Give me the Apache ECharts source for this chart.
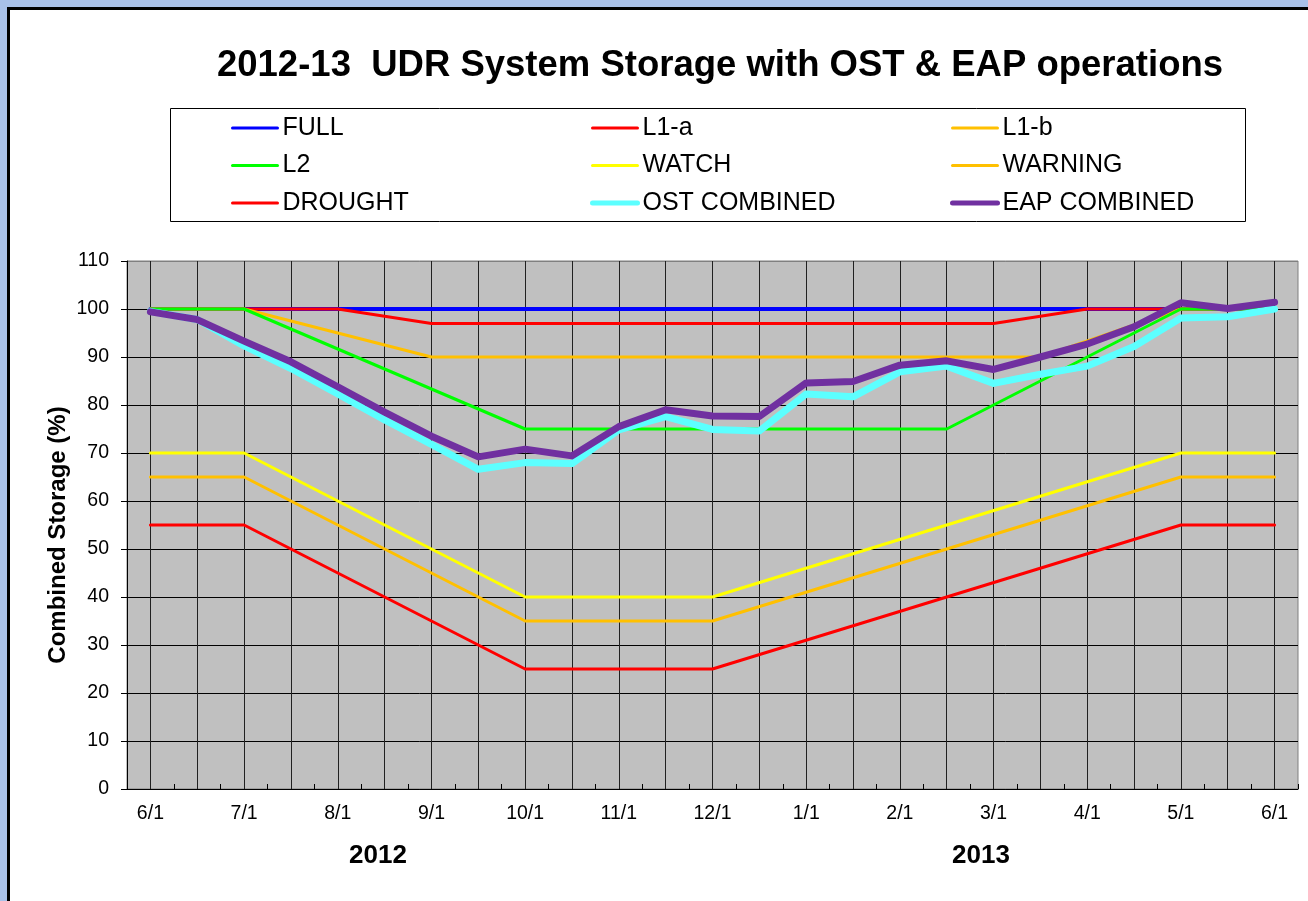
<!DOCTYPE html>
<html>
<head>
<meta charset="utf-8">
<title>2012-13 UDR System Storage</title>
<script src="https://cdn.jsdelivr.net/npm/echarts@6/dist/echarts.min.js"></script>
<style>
  html, body { margin: 0; padding: 0; background: #ffffff; }
  #chart { width: 1308px; height: 901px; }
</style>
</head>
<body>
<div id="chart"></div>
<script>
// Semi-monthly dates from 6/1/2012 to 6/1/2013
const dates = [
  '2012-06-01', '2012-06-15', '2012-07-01', '2012-07-15', '2012-08-01',
  '2012-08-15', '2012-09-01', '2012-09-15', '2012-10-01', '2012-10-15',
  '2012-11-01', '2012-11-15', '2012-12-01', '2012-12-15', '2013-01-01',
  '2013-01-15', '2013-02-01', '2013-02-15', '2013-03-01', '2013-03-15',
  '2013-04-01', '2013-04-15', '2013-05-01', '2013-05-15', '2013-06-01'
];

// Combined storage (%) for the two operating scenarios
const ostCombined = [99.5, 97.8, 92.3, 87.6, 82.3, 76.9, 71.8, 66.6, 68.0, 67.8,
  74.8, 77.6, 74.9, 74.6, 82.3, 81.7, 86.9, 88.1, 84.5, 86.4,
  88.1, 92.2, 98.1, 98.4, 100.0];
const eapCombined = [99.4, 97.8, 93.3, 89.0, 83.8, 78.5, 73.5, 69.2, 70.8, 69.4,
  75.5, 79.0, 77.7, 77.6, 84.6, 84.9, 88.3, 89.2, 87.4, 90.0,
  92.7, 96.3, 101.3, 100.1, 101.4];

// Rule curves, given by their break points [date, storage %]
const fullCurve = [['2012-06-01', 100], ['2013-06-01', 100]];
const l1aCurve = [['2012-06-01', 100], ['2012-08-01', 100], ['2012-09-01', 97],
  ['2013-03-01', 97], ['2013-04-01', 100], ['2013-06-01', 100]];
const l1bCurve = [['2012-06-01', 100], ['2012-07-01', 100], ['2012-09-01', 90],
  ['2013-03-15', 90], ['2013-05-01', 100], ['2013-06-01', 100]];
const l2Curve = [['2012-06-01', 100], ['2012-07-01', 100], ['2012-10-01', 75],
  ['2013-02-15', 75], ['2013-05-01', 100], ['2013-06-01', 100]];
const watchCurve = [['2012-06-01', 70], ['2012-07-01', 70], ['2012-10-01', 40],
  ['2012-12-01', 40], ['2013-05-01', 70], ['2013-06-01', 70]];
const warningCurve = [['2012-06-01', 65], ['2012-07-01', 65], ['2012-10-01', 35],
  ['2012-12-01', 35], ['2013-05-01', 65], ['2013-06-01', 65]];
const droughtCurve = [['2012-06-01', 55], ['2012-07-01', 55], ['2012-10-01', 25],
  ['2012-12-01', 25], ['2013-05-01', 55], ['2013-06-01', 55]];

const yTicks = { min: 0, max: 110, step: 10 };
const yearLabels = ['2012', '2013'];

const FONT = '"Liberation Sans", Arial, Helvetica, sans-serif';

function monthDay(d) {
  const parts = d.split('-');
  return parseInt(parts[1], 10) + '/' + parseInt(parts[2], 10);
}

function lineSeries(name, data, color, width) {
  return {
    name: name,
    type: 'line',
    data: data,
    symbol: 'none',
    showSymbol: false,
    silent: true,
    animation: false,
    lineStyle: { color: color, width: width, cap: 'round', join: 'round' },
    itemStyle: { color: color }
  };
}

const series = [
  lineSeries('FULL', fullCurve, '#0000FF', 4),
  lineSeries('L1-a', l1aCurve, '#FF0000', 3),
  lineSeries('L1-b', l1bCurve, '#FFC000', 3),
  lineSeries('L2', l2Curve, '#00FF00', 3),
  lineSeries('WATCH', watchCurve, '#FFFF00', 3),
  lineSeries('WARNING', warningCurve, '#FFC000', 3),
  lineSeries('DROUGHT', droughtCurve, '#FF0000', 3),
  lineSeries('OST COMBINED', ostCombined, '#5CFFFF', 7),
  lineSeries('EAP COMBINED', eapCombined, '#7030A0', 7)
];

// legend key thickness for each entry
const legendKeyWidth = {
  'FULL': 3, 'L1-a': 3, 'L1-b': 3, 'L2': 3, 'WATCH': 3, 'WARNING': 3,
  'DROUGHT': 3, 'OST COMBINED': 5, 'EAP COMBINED': 5
};

// horizontal grid colours: black inside, grey on the top edge
const nLines = (yTicks.max - yTicks.min) / yTicks.step + 1;
const hLineColors = [];
for (let i = 0; i < nLines; i++) hLineColors.push(i === nLines - 1 ? '#808080' : '#000000');

function legendColumn(left, names) {
  return {
    orient: 'vertical',
    left: left,
    top: 115,
    padding: 0,
    itemGap: 11.5,
    itemWidth: 45,
    itemHeight: 12,
    selectedMode: false,
    itemStyle: { opacity: 0 },
    data: names.map(function (n) {
      return { name: n, lineStyle: { width: legendKeyWidth[n] }, itemStyle: { opacity: 0 } };
    }),
    textStyle: { fontFamily: FONT, fontSize: 25, color: '#000', lineHeight: 26 }
  };
}

const chart = echarts.init(document.getElementById('chart'), null, { renderer: 'canvas' });

chart.setOption({
  backgroundColor: '#ffffff',
  animation: false,
  title: {
    text: '2012-13  UDR System Storage with OST & EAP operations',
    left: 715,
    top: 42,
    textAlign: 'center',
    textStyle: { fontFamily: FONT, fontSize: 36.5, fontWeight: 'bold', color: '#000' }
  },
  legend: [
    legendColumn(231, ['FULL', 'L2', 'DROUGHT']),
    legendColumn(590, ['L1-a', 'WATCH', 'OST COMBINED']),
    legendColumn(950, ['L1-b', 'WARNING', 'EAP COMBINED'])
  ],
  grid: {
    left: 127,
    right: 10,
    top: 261,
    bottom: 112,
    show: true,
    backgroundColor: '#C0C0C0',
    borderColor: '#808080',
    borderWidth: 1
  },
  xAxis: {
    type: 'category',
    data: dates,
    boundaryGap: true,
    axisLine: { show: true, lineStyle: { color: '#000', width: 1 } },
    axisTick: { show: true, inside: true, length: 5, interval: 0, lineStyle: { color: '#000' } },
    axisLabel: {
      interval: 1,
      margin: 15,
      fontFamily: FONT,
      fontSize: 19.5,
      color: '#000',
      formatter: monthDay
    },
    splitLine: {
      show: true,
      interval: 0,
      alignWithLabel: true,
      lineStyle: { color: '#202020', width: 1 }
    }
  },
  yAxis: {
    type: 'value',
    min: yTicks.min,
    max: yTicks.max,
    interval: yTicks.step,
    axisLine: { show: true, lineStyle: { color: '#000', width: 1 } },
    axisTick: { show: true, inside: false, length: 6, lineStyle: { color: '#000' } },
    axisLabel: { margin: 18, fontFamily: FONT, fontSize: 19.5, color: '#000' },
    splitLine: { show: true, lineStyle: { color: hLineColors, width: 1 } }
  },
  graphic: [
    // page frame
    { type: 'rect', z: 100, shape: { x: 0, y: 0, width: 1308, height: 7 }, style: { fill: '#A9C1E9' } },
    { type: 'rect', z: 100, shape: { x: 0, y: 0, width: 7, height: 901 }, style: { fill: '#A9C1E9' } },
    { type: 'rect', z: 100, shape: { x: 7, y: 7, width: 1301, height: 3 }, style: { fill: '#000' } },
    { type: 'rect', z: 100, shape: { x: 7, y: 7, width: 3, height: 894 }, style: { fill: '#000' } },
    // legend box
    { type: 'rect', z: 1, shape: { x: 170.5, y: 108.5, width: 1075, height: 113 },
      style: { fill: 'none', stroke: '#000', lineWidth: 1 } },
    // y axis title
    { type: 'text', z: 10, x: 58, y: 535, rotation: Math.PI / 2,
      style: { text: 'Combined Storage (%)', fontFamily: FONT, fontSize: 24, fontWeight: 'bold',
        fill: '#000', align: 'center', verticalAlign: 'middle' } },
    // year labels
    { type: 'text', z: 10, x: 378, y: 856,
      style: { text: yearLabels[0], fontFamily: FONT, fontSize: 26, fontWeight: 'bold',
        fill: '#000', align: 'center', verticalAlign: 'middle' } },
    { type: 'text', z: 10, x: 981, y: 856,
      style: { text: yearLabels[1], fontFamily: FONT, fontSize: 26, fontWeight: 'bold',
        fill: '#000', align: 'center', verticalAlign: 'middle' } }
  ],
  series: series
});
</script>
</body>
</html>
